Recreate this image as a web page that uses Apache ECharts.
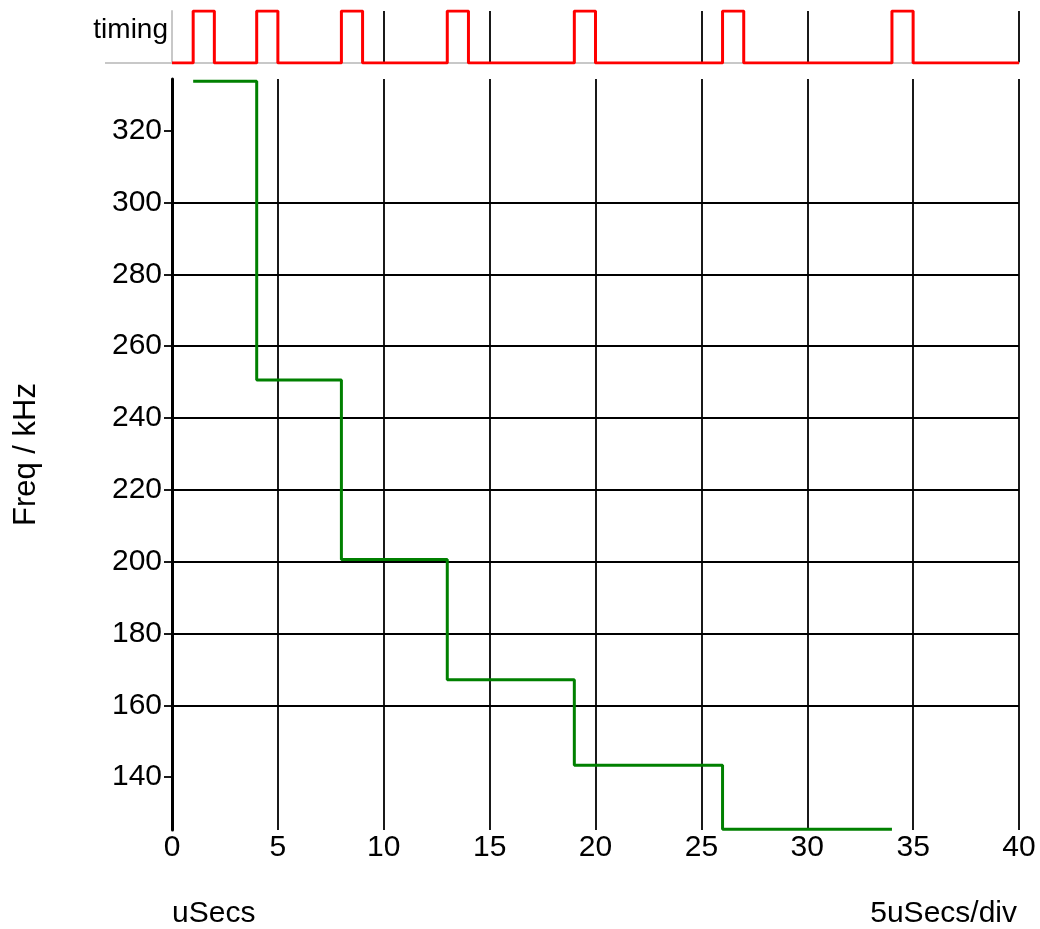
<!DOCTYPE html>
<html>
<head>
<meta charset="utf-8">
<script src="https://cdn.jsdelivr.net/npm/echarts@6/dist/echarts.min.js"></script>
<style>
html,body{margin:0;padding:0;background:#fff;}
#chart{width:1040px;height:929px;}
</style>
</head>
<body>
<div id="chart"></div>
<script>
// Timing pulses (uSecs)
var pulseRise = [1, 4, 8, 13, 19, 26, 34];
var pulseFall = [2, 5, 9, 14, 20, 27, 35];
var timeEnd = 40;
// Frequency steps
var stepTimes = [1, 4, 8, 13, 19, 26, 34];
var stepFreqs = [333.8, 250.6, 200.6, 167.1, 143.3, 125.5, 125.5];
var yTicks = [140, 160, 180, 200, 220, 240, 260, 280, 300, 320];
var xTicks = [0, 5, 10, 15, 20, 25, 30, 35, 40];

var timingData = [[0, 0]];
for (var i = 0; i < pulseRise.length; i++) {
  timingData.push([pulseRise[i], 0], [pulseRise[i], 1], [pulseFall[i], 1], [pulseFall[i], 0]);
}
timingData.push([timeEnd, 0]);

var freqData = stepTimes.map(function (t, i) { return [t, stepFreqs[i]]; });

var FONT = '"Liberation Sans", Arial, sans-serif';
var chart = echarts.init(document.getElementById('chart'), null, {renderer: 'canvas'});
chart.setOption({
  animation: false,
  backgroundColor: '#fff',
  grid: [
    {left: 172, right: 21, top: 11, height: 52},
    {left: 172, right: 21, top: 79, bottom: 99}
  ],
  xAxis: [
    {
      gridIndex: 0, type: 'value', min: 0, max: 40, interval: 5,
      axisLabel: {show: false}, axisTick: {show: false},
      axisLine: {show: true, lineStyle: {color: '#c8c8c8', width: 2}},
      splitLine: {show: true, showMinLine: false, lineStyle: {color: '#000', width: 1.8}}
    },
    {
      gridIndex: 1, type: 'value', min: 0, max: 40, interval: 5,
      axisLine: {show: false}, axisTick: {show: false},
      axisLabel: {margin: 3, fontSize: 30, color: '#000', fontFamily: FONT},
      splitLine: {show: true, lineStyle: {color: '#000', width: 1.8}}
    }
  ],
  yAxis: [
    {
      gridIndex: 0, type: 'value', min: 0, max: 1,
      axisLabel: {show: false}, axisTick: {show: false},
      axisLine: {show: true, lineStyle: {color: '#c8c8c8', width: 2}},
      splitLine: {show: false}
    },
    {
      gridIndex: 1, type: 'value', min: 125.3, max: 334.4, splitNumber: 10,
      name: 'Freq / kHz', nameLocation: 'middle', nameGap: 130,
      nameTextStyle: {fontSize: 31, color: '#000', fontFamily: FONT},
      axisLine: {show: true, lineStyle: {color: '#000', width: 3}},
      axisTick: {show: true, length: 8, customValues: yTicks, lineStyle: {color: '#000', width: 1.8}},
      axisLabel: {margin: 10, fontSize: 30, color: '#000', fontFamily: FONT, customValues: yTicks},
      splitLine: {show: true, showMinLine: false, showMaxLine: false, lineStyle: {color: '#000', width: 1.8}}
    }
  ],
  series: [
    {
      type: 'line', xAxisIndex: 0, yAxisIndex: 0, data: timingData,
      symbol: 'none', lineStyle: {color: '#ff0000', width: 3}, z: 5
    },
    {
      type: 'line', xAxisIndex: 1, yAxisIndex: 1, data: freqData, step: 'end',
      symbol: 'none', lineStyle: {color: '#008000', width: 3}, z: 5
    }
  ],
  graphic: [
    {type: 'line', shape: {x1: 105, y1: 63, x2: 172, y2: 63}, style: {stroke: '#c8c8c8', lineWidth: 2}},
    {type: 'text', x: 168, y: 30, style: {text: 'timing', font: '28px ' + FONT, fill: '#000', align: 'right', verticalAlign: 'middle'}},
    {type: 'text', x: 172, y: 914, style: {text: 'uSecs', font: '30px ' + FONT, fill: '#000', align: 'left', verticalAlign: 'middle'}},
    {type: 'text', x: 1017, y: 914, style: {text: '5uSecs/div', font: '30px ' + FONT, fill: '#000', align: 'right', verticalAlign: 'middle'}}
  ]
});
</script>
</body>
</html>
